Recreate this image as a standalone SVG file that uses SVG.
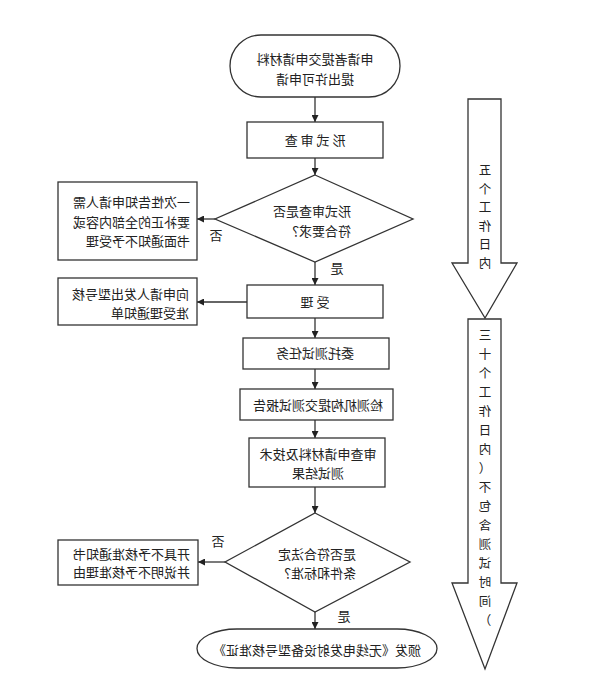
<svg xmlns="http://www.w3.org/2000/svg" width="609" height="695" viewBox="0 0 609 695">
<defs>
<marker id="ah" viewBox="0 0 10 10" refX="10" refY="5" markerWidth="7" markerHeight="7" markerUnits="userSpaceOnUse" orient="auto">
<path d="M0,0 L10,5 L0,10 z" fill="#222"/>
</marker>
<style>
.s{fill:#fff;stroke:#333;stroke-width:1.3}
.c{fill:none;stroke:#333;stroke-width:1.3;marker-end:url(#ah)}
.t{font-family:"Noto Sans CJK SC","Noto Sans CJK JP",sans-serif;font-size:13px;fill:#222}
.m{text-anchor:middle}
.v{font-family:"Noto Sans CJK SC","Noto Sans CJK JP",sans-serif;font-size:12.5px;fill:#222;text-anchor:middle}
</style>
</defs>
<rect width="609" height="695" fill="#fff"/>

<g id="connectors">
<line class="c" x1="315" y1="97" x2="315" y2="122"/>
<line class="c" x1="315" y1="158" x2="315" y2="175"/>
<line class="c" x1="315" y1="262" x2="315" y2="285"/>
<line class="c" x1="215" y1="219" x2="197" y2="219"/>
<line class="c" x1="247" y1="302" x2="197" y2="302"/>
<line class="c" x1="315" y1="318" x2="315" y2="338"/>
<line class="c" x1="315" y1="369" x2="315" y2="389"/>
<line class="c" x1="315" y1="420" x2="315" y2="438"/>
<line class="c" x1="315" y1="487" x2="315" y2="513"/>
<line class="c" x1="225" y1="562" x2="198" y2="562"/>
<line class="c" x1="315" y1="612" x2="315" y2="629"/>
<g transform="scale(-1,1)">
<text class="t m" x="-216" y="240">否</text>
<text class="t m" x="-337" y="273">是</text>
<text class="t m" x="-218" y="546">否</text>
<text class="t m" x="-344" y="621">是</text>
</g>
</g>

<g id="start">
<rect class="s" x="230" y="35" width="170" height="62" rx="31" ry="31"/>
<g transform="scale(-1,1)"><text class="t m" x="-315" y="64">申请者提交申请材料</text><text class="t m" x="-315" y="84">提出许可申请</text></g>
</g>

<g id="formal-review">
<rect class="s" x="247" y="122" width="136" height="36"/>
<g transform="scale(-1,1)"><text class="t m" x="-315" y="145">形 式 审 查</text></g>
</g>

<g id="decision1">
<polygon class="s" points="315,175 413,219 315,262 215,219"/>
<g transform="scale(-1,1)"><text class="t" x="-351" y="216">形式审查是否</text><text class="t" x="-351" y="236">符合要求？</text></g>
</g>

<g id="notify-supplement">
<rect class="s" x="58" y="182" width="139" height="78"/>
<g transform="scale(-1,1)"><text class="t" x="-190" y="207">一次性告知申请人需</text><text class="t" x="-190" y="227">要补正的全部内容或</text><text class="t" x="-190" y="246">书面通知不予受理</text></g>
</g>

<g id="accept">
<rect class="s" x="247" y="285" width="136" height="33"/>
<g transform="scale(-1,1)"><text class="t m" x="-315" y="307">受 理</text></g>
</g>

<g id="accept-notice">
<rect class="s" x="58" y="278" width="139" height="47"/>
<g transform="scale(-1,1)"><text class="t" x="-189" y="299">向申请人发出型号核</text><text class="t" x="-189" y="318">准受理通知单</text></g>
</g>

<g id="test-task">
<rect class="s" x="243" y="338" width="146" height="31"/>
<g transform="scale(-1,1)"><text class="t m" x="-315" y="358">委托测试任务</text></g>
</g>

<g id="test-report">
<rect class="s" x="240" y="389" width="153" height="31"/>
<g transform="scale(-1,1)"><text class="t m" x="-318" y="410">检测机构提交测试报告</text></g>
</g>

<g id="review-results">
<rect class="s" x="249" y="438" width="136" height="49"/>
<g transform="scale(-1,1)"><text class="t m" x="-318" y="459">审查申请材料及技术</text><text class="t m" x="-318" y="478">测试结果</text></g>
</g>

<g id="decision2">
<polygon class="s" points="315,513 410,562 315,612 225,562"/>
<g transform="scale(-1,1)"><text class="t" x="-356" y="559">是否符合法定</text><text class="t" x="-356" y="578">条件和标准？</text></g>
</g>

<g id="reject">
<rect class="s" x="58" y="540" width="140" height="45"/>
<g transform="scale(-1,1)"><text class="t" x="-190" y="559">开具不予核准通知书</text><text class="t" x="-190" y="577">并说明不予核准理由</text></g>
</g>

<g id="end">
<rect class="s" x="197" y="629" width="240" height="39" rx="40" ry="19.5"/>
<g transform="scale(-1,1)"><text class="t m" x="-317" y="655">颁发《无线电发射设备型号核准证》</text></g>
</g>

<g id="five-days">
<polygon class="s" points="468,99 501,99 501,263 517,263 485,318 452,263 468,263"/>
<g transform="scale(-1,1)"><text class="v" x="-485"><tspan x="-485" y="175">五</tspan><tspan x="-485" y="193.6">个</tspan><tspan x="-485" y="212.2">工</tspan><tspan x="-485" y="230.8">作</tspan><tspan x="-485" y="249.4">日</tspan><tspan x="-485" y="268">内</tspan></text></g>
</g>

<g id="thirty-days">
<polygon class="s" points="468,319 501,319 501,583 517,583 485,669 452,583 468,583"/>
<g transform="scale(-1,1)"><text class="v" x="-485"><tspan x="-485" y="340">三</tspan><tspan x="-485" y="359">十</tspan><tspan x="-485" y="378">个</tspan><tspan x="-485" y="397">工</tspan><tspan x="-485" y="416">作</tspan><tspan x="-485" y="435">日</tspan><tspan x="-485" y="454">内</tspan><tspan x="-485" y="473">（</tspan><tspan x="-485" y="492">不</tspan><tspan x="-485" y="511">包</tspan><tspan x="-485" y="530">含</tspan><tspan x="-485" y="549">测</tspan><tspan x="-485" y="568">试</tspan><tspan x="-485" y="587">时</tspan><tspan x="-485" y="606">间</tspan><tspan x="-485" y="625">）</tspan></text></g>
</g>
</svg>
